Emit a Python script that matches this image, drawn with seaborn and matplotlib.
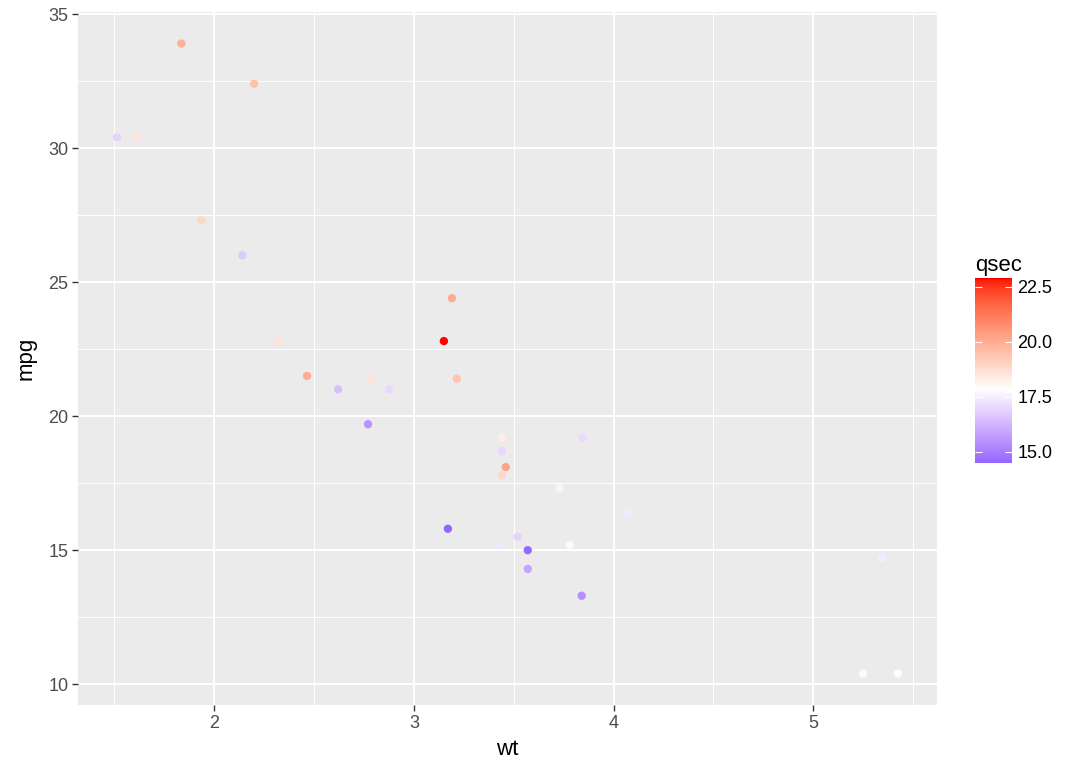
import numpy as np
import pandas as pd
import seaborn as sns
import matplotlib.pyplot as plt
from matplotlib.colors import ListedColormap, Normalize
from matplotlib.cm import ScalarMappable

plt.rcParams['font.family'] = ['Liberation Sans', 'DejaVu Sans']

# mtcars: weight, mpg, qsec
wt = [2.620, 2.875, 2.320, 3.215, 3.440, 3.460, 3.570, 3.190, 3.150, 3.440, 3.440,
      4.070, 3.730, 3.780, 5.250, 5.424, 5.345, 2.200, 1.615, 1.835, 2.465, 3.520,
      3.435, 3.840, 3.845, 1.935, 2.140, 1.513, 3.170, 2.770, 3.570, 2.780]
mpg = [21.0, 21.0, 22.8, 21.4, 18.7, 18.1, 14.3, 24.4, 22.8, 19.2, 17.8,
       16.4, 17.3, 15.2, 10.4, 10.4, 14.7, 32.4, 30.4, 33.9, 21.5, 15.5,
       15.2, 13.3, 19.2, 27.3, 26.0, 30.4, 15.8, 19.7, 15.0, 21.4]
qsec = [16.46, 17.02, 18.61, 19.44, 17.02, 20.22, 15.84, 20.00, 22.90, 18.30, 18.90,
        17.40, 17.60, 18.00, 17.98, 17.82, 17.42, 19.47, 18.52, 19.90, 20.01, 16.87,
        17.30, 15.41, 17.05, 18.90, 16.70, 16.90, 14.50, 15.50, 14.60, 18.60]
cbar_ticks = [15.0, 17.5, 20.0, 22.5]

df = pd.DataFrame({'wt': wt, 'mpg': mpg, 'qsec': qsec})


# --- blue / white / red gradient interpolated in Lab, like scale_colour_gradient2
def srgb_to_lab(rgb):
    rgb = np.asarray(rgb, float)
    lin = np.where(rgb <= 0.04045, rgb / 12.92, ((rgb + 0.055) / 1.055) ** 2.4)
    M = np.array([[0.4124, 0.3576, 0.1805], [0.2126, 0.7152, 0.0722], [0.0193, 0.1192, 0.9505]])
    xyz = lin @ M.T / np.array([0.95047, 1.0, 1.08883])
    f = np.where(xyz > 0.008856, np.cbrt(xyz), 7.787 * xyz + 16 / 116)
    return np.stack([116 * f[..., 1] - 16, 500 * (f[..., 0] - f[..., 1]), 200 * (f[..., 1] - f[..., 2])], -1)


def lab_to_srgb(lab):
    L, a, b = lab[..., 0], lab[..., 1], lab[..., 2]
    fy = (L + 16) / 116
    fx = fy + a / 500
    fz = fy - b / 200
    f = np.stack([fx, fy, fz], -1)
    xyz = np.where(f > 0.2069, f ** 3, (f - 16 / 116) / 7.787) * np.array([0.95047, 1.0, 1.08883])
    Minv = np.array([[3.2406, -1.5372, -0.4986], [-0.9689, 1.8758, 0.0415], [0.0557, -0.2040, 1.0570]])
    lin = xyz @ Minv.T
    rgb = np.where(lin <= 0.0031308, 12.92 * lin, 1.055 * np.clip(lin, 0, None) ** (1 / 2.4) - 0.055)
    return np.clip(rgb, 0, 1)


anchors = srgb_to_lab([[0, 0, 1], [1, 1, 1], [1, 0, 0]])
t = np.linspace(0, 1, 512)
lab = np.where(t[:, None] < 0.5,
               anchors[0] + (anchors[1] - anchors[0]) * (t[:, None] / 0.5),
               anchors[1] + (anchors[2] - anchors[1]) * ((t[:, None] - 0.5) / 0.5))
cmap = ListedColormap(lab_to_srgb(lab))

mid = np.mean(qsec)
half = max(max(qsec) - mid, mid - min(qsec))
norm = Normalize(vmin=mid - half, vmax=mid + half)

# --- figure
fig = plt.figure(figsize=(10.8, 7.71), dpi=100)
ax = fig.add_axes([0.0722, 0.0856, 0.7954, 0.8988])
ax.set_facecolor('#EBEBEB')

sns.scatterplot(data=df, x='wt', y='mpg', hue='qsec', palette=cmap, hue_norm=norm,
                s=36, linewidth=0, legend=False, ax=ax, zorder=3)

xr = max(wt) - min(wt)
yr = max(mpg) - min(mpg)
ax.set_xlim(min(wt) - 0.05 * xr, max(wt) + 0.05 * xr)
ax.set_ylim(min(mpg) - 0.05 * yr, max(mpg) + 0.05 * yr)
ax.set_xticks([2, 3, 4, 5])
ax.set_yticks([10, 15, 20, 25, 30, 35])
ax.set_xticks([1.5, 2.5, 3.5, 4.5, 5.5], minor=True)
ax.set_yticks([12.5, 17.5, 22.5, 27.5, 32.5], minor=True)
ax.grid(which='major', color='white', linewidth=1.4, zorder=0)
ax.grid(which='minor', color='white', linewidth=0.7, zorder=0)
ax.set_axisbelow(True)
for s in ax.spines.values():
    s.set_visible(False)
ax.tick_params(which='major', length=4, width=1, color='#333333', labelcolor='#4D4D4D',
               labelsize=13, pad=3)
ax.tick_params(which='minor', length=0)
ax.set_xlabel('wt', fontsize=16, color='black', labelpad=5)
ax.set_ylabel('mpg', fontsize=16, color='black', labelpad=8)

# --- colourbar legend
cax = fig.add_axes([0.9028, 0.3995, 0.0343, 0.24])
sm = ScalarMappable(norm=norm, cmap=cmap)
cb = fig.colorbar(sm, cax=cax, boundaries=np.linspace(min(qsec), max(qsec), 300))
cb.outline.set_visible(False)
cb.set_ticks(cbar_ticks)
cb.set_ticklabels([f'{v:.1f}' for v in cbar_ticks])
cax.tick_params(axis='y', which='major', left=True, right=True, direction='in',
                length=5, width=0.8, color='white', labelcolor='black', labelsize=13, pad=4)
cax.yaxis.set_ticks_position('both')
cax.tick_params(labelleft=False, labelright=True)
cax.set_title('qsec', fontsize=16, loc='left', pad=5)

fig.savefig('out.png', dpi=100)
